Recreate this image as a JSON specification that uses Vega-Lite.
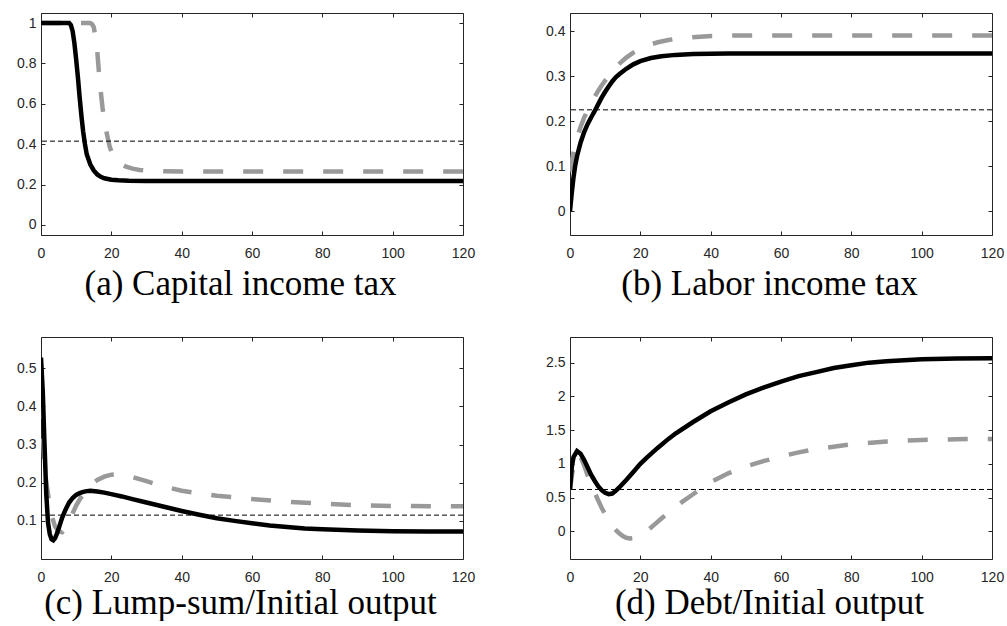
{
  "$schema": "https://vega.github.io/schema/vega-lite/v6.json",
  "padding": {"left": 16, "top": 12, "right": 0, "bottom": 0},
  "background": "white",
  "columns": 2,
  "spacing": {"row": 102, "column": 107},
  "bounds": "flush",
  "datasets": {
    "curves": [
      {"p":"a","s":"k","t":0,"v":1},{"p":"a","s":"k","t":4,"v":1},{"p":"a","s":"k","t":8,"v":1},{"p":"a","s":"k","t":8.5,"v":0.99},{"p":"a","s":"k","t":9,"v":0.96},{"p":"a","s":"k","t":9.5,"v":0.9},{"p":"a","s":"k","t":10,"v":0.82},{"p":"a","s":"k","t":10.5,"v":0.73},{"p":"a","s":"k","t":11,"v":0.63},{"p":"a","s":"k","t":11.5,"v":0.54},{"p":"a","s":"k","t":12,"v":0.46},{"p":"a","s":"k","t":12.5,"v":0.4},{"p":"a","s":"k","t":13,"v":0.35},{"p":"a","s":"k","t":14,"v":0.3},{"p":"a","s":"k","t":15,"v":0.27},{"p":"a","s":"k","t":16,"v":0.25},{"p":"a","s":"k","t":17,"v":0.238},{"p":"a","s":"k","t":18,"v":0.231},{"p":"a","s":"k","t":20,"v":0.224},{"p":"a","s":"k","t":22,"v":0.221},{"p":"a","s":"k","t":25,"v":0.219},{"p":"a","s":"k","t":30,"v":0.218},{"p":"a","s":"k","t":60,"v":0.218},{"p":"a","s":"k","t":120,"v":0.218},
      {"p":"a","s":"g","t":0,"v":1},{"p":"a","s":"g","t":14,"v":1},{"p":"a","s":"g","t":14.5,"v":0.995},{"p":"a","s":"g","t":15,"v":0.98},{"p":"a","s":"g","t":15.5,"v":0.93},{"p":"a","s":"g","t":16,"v":0.86},{"p":"a","s":"g","t":16.5,"v":0.75},{"p":"a","s":"g","t":17,"v":0.66},{"p":"a","s":"g","t":17.5,"v":0.58},{"p":"a","s":"g","t":18,"v":0.52},{"p":"a","s":"g","t":18.5,"v":0.47},{"p":"a","s":"g","t":19,"v":0.43},{"p":"a","s":"g","t":19.5,"v":0.39},{"p":"a","s":"g","t":20,"v":0.365},{"p":"a","s":"g","t":21,"v":0.33},{"p":"a","s":"g","t":22,"v":0.31},{"p":"a","s":"g","t":24,"v":0.29},{"p":"a","s":"g","t":26,"v":0.279},{"p":"a","s":"g","t":28,"v":0.272},{"p":"a","s":"g","t":32,"v":0.267},{"p":"a","s":"g","t":40,"v":0.265},{"p":"a","s":"g","t":120,"v":0.265},
      {"p":"b","s":"k","t":0,"v":0},{"p":"b","s":"k","t":0.5,"v":0.04},{"p":"b","s":"k","t":1,"v":0.075},{"p":"b","s":"k","t":1.5,"v":0.102},{"p":"b","s":"k","t":2,"v":0.122},{"p":"b","s":"k","t":3,"v":0.152},{"p":"b","s":"k","t":4,"v":0.175},{"p":"b","s":"k","t":5,"v":0.193},{"p":"b","s":"k","t":6,"v":0.208},{"p":"b","s":"k","t":7,"v":0.222},{"p":"b","s":"k","t":8,"v":0.237},{"p":"b","s":"k","t":9,"v":0.252},{"p":"b","s":"k","t":10,"v":0.265},{"p":"b","s":"k","t":11,"v":0.277},{"p":"b","s":"k","t":12,"v":0.288},{"p":"b","s":"k","t":13,"v":0.297},{"p":"b","s":"k","t":14,"v":0.304},{"p":"b","s":"k","t":16,"v":0.316},{"p":"b","s":"k","t":18,"v":0.326},{"p":"b","s":"k","t":20,"v":0.333},{"p":"b","s":"k","t":23,"v":0.34},{"p":"b","s":"k","t":26,"v":0.344},{"p":"b","s":"k","t":30,"v":0.347},{"p":"b","s":"k","t":35,"v":0.349},{"p":"b","s":"k","t":45,"v":0.35},{"p":"b","s":"k","t":120,"v":0.35},
      {"p":"b","s":"g","t":0,"v":0.088},{"p":"b","s":"g","t":0.5,"v":0.11},{"p":"b","s":"g","t":1,"v":0.13},{"p":"b","s":"g","t":1.5,"v":0.148},{"p":"b","s":"g","t":2,"v":0.163},{"p":"b","s":"g","t":3,"v":0.187},{"p":"b","s":"g","t":4,"v":0.207},{"p":"b","s":"g","t":5,"v":0.224},{"p":"b","s":"g","t":6,"v":0.24},{"p":"b","s":"g","t":7,"v":0.254},{"p":"b","s":"g","t":8,"v":0.267},{"p":"b","s":"g","t":9,"v":0.279},{"p":"b","s":"g","t":10,"v":0.29},{"p":"b","s":"g","t":12,"v":0.31},{"p":"b","s":"g","t":14,"v":0.327},{"p":"b","s":"g","t":16,"v":0.341},{"p":"b","s":"g","t":18,"v":0.352},{"p":"b","s":"g","t":20,"v":0.361},{"p":"b","s":"g","t":22,"v":0.368},{"p":"b","s":"g","t":25,"v":0.375},{"p":"b","s":"g","t":28,"v":0.38},{"p":"b","s":"g","t":32,"v":0.385},{"p":"b","s":"g","t":38,"v":0.388},{"p":"b","s":"g","t":45,"v":0.39},{"p":"b","s":"g","t":120,"v":0.39},
      {"p":"c","s":"k","t":0,"v":0.528},{"p":"c","s":"k","t":0.5,"v":0.44},{"p":"c","s":"k","t":1,"v":0.3},{"p":"c","s":"k","t":1.5,"v":0.17},{"p":"c","s":"k","t":2,"v":0.095},{"p":"c","s":"k","t":2.5,"v":0.065},{"p":"c","s":"k","t":3,"v":0.052},{"p":"c","s":"k","t":3.5,"v":0.049},{"p":"c","s":"k","t":4,"v":0.055},{"p":"c","s":"k","t":4.5,"v":0.066},{"p":"c","s":"k","t":5,"v":0.079},{"p":"c","s":"k","t":6,"v":0.108},{"p":"c","s":"k","t":7,"v":0.13},{"p":"c","s":"k","t":8,"v":0.148},{"p":"c","s":"k","t":9,"v":0.16},{"p":"c","s":"k","t":10,"v":0.168},{"p":"c","s":"k","t":11,"v":0.173},{"p":"c","s":"k","t":12,"v":0.176},{"p":"c","s":"k","t":13,"v":0.178},{"p":"c","s":"k","t":14,"v":0.179},{"p":"c","s":"k","t":16,"v":0.177},{"p":"c","s":"k","t":18,"v":0.174},{"p":"c","s":"k","t":20,"v":0.17},{"p":"c","s":"k","t":23,"v":0.164},{"p":"c","s":"k","t":26,"v":0.157},{"p":"c","s":"k","t":30,"v":0.148},{"p":"c","s":"k","t":35,"v":0.137},{"p":"c","s":"k","t":40,"v":0.126},{"p":"c","s":"k","t":45,"v":0.116},{"p":"c","s":"k","t":50,"v":0.107},{"p":"c","s":"k","t":55,"v":0.1},{"p":"c","s":"k","t":60,"v":0.094},{"p":"c","s":"k","t":65,"v":0.088},{"p":"c","s":"k","t":70,"v":0.084},{"p":"c","s":"k","t":75,"v":0.08},{"p":"c","s":"k","t":80,"v":0.078},{"p":"c","s":"k","t":90,"v":0.075},{"p":"c","s":"k","t":100,"v":0.073},{"p":"c","s":"k","t":110,"v":0.072},{"p":"c","s":"k","t":120,"v":0.072},
      {"p":"c","s":"g","t":0,"v":0.42},{"p":"c","s":"g","t":0.5,"v":0.33},{"p":"c","s":"g","t":1,"v":0.25},{"p":"c","s":"g","t":1.5,"v":0.2},{"p":"c","s":"g","t":2,"v":0.17},{"p":"c","s":"g","t":2.5,"v":0.14},{"p":"c","s":"g","t":3,"v":0.115},{"p":"c","s":"g","t":4,"v":0.085},{"p":"c","s":"g","t":5,"v":0.072},{"p":"c","s":"g","t":6,"v":0.07},{"p":"c","s":"g","t":7,"v":0.082},{"p":"c","s":"g","t":8,"v":0.1},{"p":"c","s":"g","t":9,"v":0.12},{"p":"c","s":"g","t":10,"v":0.14},{"p":"c","s":"g","t":11,"v":0.156},{"p":"c","s":"g","t":12,"v":0.17},{"p":"c","s":"g","t":13,"v":0.183},{"p":"c","s":"g","t":14,"v":0.193},{"p":"c","s":"g","t":16,"v":0.207},{"p":"c","s":"g","t":18,"v":0.216},{"p":"c","s":"g","t":20,"v":0.221},{"p":"c","s":"g","t":22,"v":0.222},{"p":"c","s":"g","t":24,"v":0.22},{"p":"c","s":"g","t":26,"v":0.215},{"p":"c","s":"g","t":30,"v":0.204},{"p":"c","s":"g","t":35,"v":0.19},{"p":"c","s":"g","t":40,"v":0.179},{"p":"c","s":"g","t":45,"v":0.172},{"p":"c","s":"g","t":50,"v":0.166},{"p":"c","s":"g","t":60,"v":0.157},{"p":"c","s":"g","t":70,"v":0.15},{"p":"c","s":"g","t":80,"v":0.145},{"p":"c","s":"g","t":90,"v":0.141},{"p":"c","s":"g","t":100,"v":0.139},{"p":"c","s":"g","t":120,"v":0.138},
      {"p":"d","s":"k","t":0,"v":0.62},{"p":"d","s":"k","t":0.5,"v":0.95},{"p":"d","s":"k","t":1,"v":1.1},{"p":"d","s":"k","t":2,"v":1.19},{"p":"d","s":"k","t":3,"v":1.15},{"p":"d","s":"k","t":4,"v":1.06},{"p":"d","s":"k","t":5,"v":0.95},{"p":"d","s":"k","t":6,"v":0.84},{"p":"d","s":"k","t":7,"v":0.75},{"p":"d","s":"k","t":8,"v":0.67},{"p":"d","s":"k","t":9,"v":0.61},{"p":"d","s":"k","t":10,"v":0.57},{"p":"d","s":"k","t":11,"v":0.55},{"p":"d","s":"k","t":12,"v":0.56},{"p":"d","s":"k","t":13,"v":0.6},{"p":"d","s":"k","t":14,"v":0.65},{"p":"d","s":"k","t":16,"v":0.76},{"p":"d","s":"k","t":18,"v":0.88},{"p":"d","s":"k","t":20,"v":1.0},{"p":"d","s":"k","t":22,"v":1.1},{"p":"d","s":"k","t":25,"v":1.24},{"p":"d","s":"k","t":28,"v":1.37},{"p":"d","s":"k","t":30,"v":1.45},{"p":"d","s":"k","t":35,"v":1.62},{"p":"d","s":"k","t":40,"v":1.78},{"p":"d","s":"k","t":45,"v":1.91},{"p":"d","s":"k","t":50,"v":2.03},{"p":"d","s":"k","t":55,"v":2.13},{"p":"d","s":"k","t":60,"v":2.22},{"p":"d","s":"k","t":65,"v":2.3},{"p":"d","s":"k","t":70,"v":2.36},{"p":"d","s":"k","t":75,"v":2.42},{"p":"d","s":"k","t":80,"v":2.46},{"p":"d","s":"k","t":85,"v":2.5},{"p":"d","s":"k","t":90,"v":2.52},{"p":"d","s":"k","t":100,"v":2.55},{"p":"d","s":"k","t":110,"v":2.56},{"p":"d","s":"k","t":120,"v":2.565},
      {"p":"d","s":"g","t":0,"v":0.62},{"p":"d","s":"g","t":1,"v":1.0},{"p":"d","s":"g","t":2,"v":1.13},{"p":"d","s":"g","t":3,"v":1.1},{"p":"d","s":"g","t":4,"v":0.98},{"p":"d","s":"g","t":5,"v":0.83},{"p":"d","s":"g","t":6,"v":0.7},{"p":"d","s":"g","t":7,"v":0.58},{"p":"d","s":"g","t":8,"v":0.46},{"p":"d","s":"g","t":9,"v":0.35},{"p":"d","s":"g","t":10,"v":0.25},{"p":"d","s":"g","t":11,"v":0.16},{"p":"d","s":"g","t":12,"v":0.08},{"p":"d","s":"g","t":13,"v":0.02},{"p":"d","s":"g","t":14,"v":-0.03},{"p":"d","s":"g","t":15,"v":-0.07},{"p":"d","s":"g","t":16,"v":-0.095},{"p":"d","s":"g","t":17,"v":-0.105},{"p":"d","s":"g","t":18,"v":-0.1},{"p":"d","s":"g","t":19,"v":-0.085},{"p":"d","s":"g","t":20,"v":-0.06},{"p":"d","s":"g","t":22,"v":0.01},{"p":"d","s":"g","t":24,"v":0.1},{"p":"d","s":"g","t":26,"v":0.19},{"p":"d","s":"g","t":28,"v":0.28},{"p":"d","s":"g","t":30,"v":0.36},{"p":"d","s":"g","t":32,"v":0.44},{"p":"d","s":"g","t":35,"v":0.55},{"p":"d","s":"g","t":38,"v":0.66},{"p":"d","s":"g","t":40,"v":0.73},{"p":"d","s":"g","t":45,"v":0.86},{"p":"d","s":"g","t":50,"v":0.96},{"p":"d","s":"g","t":55,"v":1.04},{"p":"d","s":"g","t":60,"v":1.11},{"p":"d","s":"g","t":65,"v":1.17},{"p":"d","s":"g","t":70,"v":1.22},{"p":"d","s":"g","t":80,"v":1.29},{"p":"d","s":"g","t":90,"v":1.33},{"p":"d","s":"g","t":100,"v":1.355},{"p":"d","s":"g","t":110,"v":1.365},{"p":"d","s":"g","t":120,"v":1.37}
    ],
    "refs": [
      {"p":"a","ref":0.415},{"p":"b","ref":0.225},{"p":"c","ref":0.115},{"p":"d","ref":0.62}
    ]
  },
  "concat": [
    {
      "width": 422, "height": 222,
      "resolve": {"axis": {"x": "independent", "y": "independent"}},
      "layer": [
        {
          "data": {"name": "curves"},
          "transform": [{"filter": "datum.p === 'a' && datum.s === 'g'"}],
          "mark": {"type": "line", "color": "#999999", "strokeWidth": 4.5, "strokeDash": [20, 20], "clip": true},
          "encoding": {
            "x": {"field": "t", "type": "quantitative", "scale": {"domain": [0, 120], "nice": false, "zero": false}, "axis": {"orient": "top", "labels": false, "title": null, "values": [0,20,40,60,80,100,120]}},
            "y": {"field": "v", "type": "quantitative", "scale": {"domain": [-0.05, 1.05], "nice": false, "zero": false}, "axis": {"orient": "right", "labels": false, "title": null, "values": [0,0.2,0.4,0.6,0.8,1]}}
          }
        },
        {
          "data": {"name": "curves"},
          "transform": [{"filter": "datum.p === 'a' && datum.s === 'k'"}],
          "mark": {"type": "line", "color": "#000000", "strokeWidth": 4.5, "clip": true},
          "encoding": {
            "x": {"field": "t", "type": "quantitative", "scale": {"domain": [0, 120], "nice": false, "zero": false}, "axis": {"orient": "bottom", "title": "(a) Capital income tax", "titleY": 59, "values": [0,20,40,60,80,100,120]}},
            "y": {"field": "v", "type": "quantitative", "scale": {"domain": [-0.05, 1.05], "nice": false, "zero": false}, "axis": {"orient": "left", "title": null, "values": [0,0.2,0.4,0.6,0.8,1]}}
          }
        },
        {
          "data": {"name": "refs"},
          "transform": [{"filter": "datum.p === 'a'"}],
          "mark": {"type": "rule", "color": "#000000", "strokeWidth": 1, "strokeDash": [5, 3]},
          "encoding": {
            "y": {"field": "ref", "type": "quantitative", "scale": {"domain": [-0.05, 1.05], "nice": false, "zero": false}, "axis": null}
          }
        }
      ]
    },
    {
      "width": 422, "height": 222,
      "resolve": {"axis": {"x": "independent", "y": "independent"}},
      "layer": [
        {
          "data": {"name": "curves"},
          "transform": [{"filter": "datum.p === 'b' && datum.s === 'g'"}],
          "mark": {"type": "line", "color": "#999999", "strokeWidth": 4.5, "strokeDash": [20, 20], "clip": true},
          "encoding": {
            "x": {"field": "t", "type": "quantitative", "scale": {"domain": [0, 120], "nice": false, "zero": false}, "axis": {"orient": "top", "labels": false, "title": null, "values": [0,20,40,60,80,100,120]}},
            "y": {"field": "v", "type": "quantitative", "scale": {"domain": [-0.053, 0.44], "nice": false, "zero": false}, "axis": {"orient": "right", "labels": false, "title": null, "values": [0,0.1,0.2,0.3,0.4]}}
          }
        },
        {
          "data": {"name": "curves"},
          "transform": [{"filter": "datum.p === 'b' && datum.s === 'k'"}],
          "mark": {"type": "line", "color": "#000000", "strokeWidth": 4.5, "clip": true},
          "encoding": {
            "x": {"field": "t", "type": "quantitative", "scale": {"domain": [0, 120], "nice": false, "zero": false}, "axis": {"orient": "bottom", "title": "(b) Labor income tax", "titleY": 59, "values": [0,20,40,60,80,100,120]}},
            "y": {"field": "v", "type": "quantitative", "scale": {"domain": [-0.053, 0.44], "nice": false, "zero": false}, "axis": {"orient": "left", "title": null, "values": [0,0.1,0.2,0.3,0.4]}}
          }
        },
        {
          "data": {"name": "refs"},
          "transform": [{"filter": "datum.p === 'b'"}],
          "mark": {"type": "rule", "color": "#000000", "strokeWidth": 1, "strokeDash": [5, 3]},
          "encoding": {
            "y": {"field": "ref", "type": "quantitative", "scale": {"domain": [-0.053, 0.44], "nice": false, "zero": false}, "axis": null}
          }
        }
      ]
    },
    {
      "width": 422, "height": 222,
      "resolve": {"axis": {"x": "independent", "y": "independent"}},
      "layer": [
        {
          "data": {"name": "curves"},
          "transform": [{"filter": "datum.p === 'c' && datum.s === 'g'"}],
          "mark": {"type": "line", "color": "#999999", "strokeWidth": 4.5, "strokeDash": [20, 20], "clip": true},
          "encoding": {
            "x": {"field": "t", "type": "quantitative", "scale": {"domain": [0, 120], "nice": false, "zero": false}, "axis": {"orient": "top", "labels": false, "title": null, "values": [0,20,40,60,80,100,120]}},
            "y": {"field": "v", "type": "quantitative", "scale": {"domain": [0, 0.582], "nice": false, "zero": false}, "axis": {"orient": "right", "labels": false, "title": null, "values": [0.1,0.2,0.3,0.4,0.5]}}
          }
        },
        {
          "data": {"name": "curves"},
          "transform": [{"filter": "datum.p === 'c' && datum.s === 'k'"}],
          "mark": {"type": "line", "color": "#000000", "strokeWidth": 4.5, "clip": true},
          "encoding": {
            "x": {"field": "t", "type": "quantitative", "scale": {"domain": [0, 120], "nice": false, "zero": false}, "axis": {"orient": "bottom", "title": "(c) Lump-sum/Initial output", "titleY": 54, "values": [0,20,40,60,80,100,120]}},
            "y": {"field": "v", "type": "quantitative", "scale": {"domain": [0, 0.582], "nice": false, "zero": false}, "axis": {"orient": "left", "title": null, "values": [0.1,0.2,0.3,0.4,0.5]}}
          }
        },
        {
          "data": {"name": "refs"},
          "transform": [{"filter": "datum.p === 'c'"}],
          "mark": {"type": "rule", "color": "#000000", "strokeWidth": 1, "strokeDash": [5, 3]},
          "encoding": {
            "y": {"field": "ref", "type": "quantitative", "scale": {"domain": [0, 0.582], "nice": false, "zero": false}, "axis": null}
          }
        }
      ]
    },
    {
      "width": 422, "height": 222,
      "resolve": {"axis": {"x": "independent", "y": "independent"}},
      "layer": [
        {
          "data": {"name": "curves"},
          "transform": [{"filter": "datum.p === 'd' && datum.s === 'g'"}],
          "mark": {"type": "line", "color": "#999999", "strokeWidth": 4.5, "strokeDash": [20, 20], "clip": true},
          "encoding": {
            "x": {"field": "t", "type": "quantitative", "scale": {"domain": [0, 120], "nice": false, "zero": false}, "axis": {"orient": "top", "labels": false, "title": null, "values": [0,20,40,60,80,100,120]}},
            "y": {"field": "v", "type": "quantitative", "scale": {"domain": [-0.41, 2.88], "nice": false, "zero": false}, "axis": {"orient": "right", "labels": false, "title": null, "values": [0,0.5,1,1.5,2,2.5]}}
          }
        },
        {
          "data": {"name": "curves"},
          "transform": [{"filter": "datum.p === 'd' && datum.s === 'k'"}],
          "mark": {"type": "line", "color": "#000000", "strokeWidth": 4.5, "clip": true},
          "encoding": {
            "x": {"field": "t", "type": "quantitative", "scale": {"domain": [0, 120], "nice": false, "zero": false}, "axis": {"orient": "bottom", "title": "(d) Debt/Initial output", "titleY": 54, "values": [0,20,40,60,80,100,120]}},
            "y": {"field": "v", "type": "quantitative", "scale": {"domain": [-0.41, 2.88], "nice": false, "zero": false}, "axis": {"orient": "left", "title": null, "values": [0,0.5,1,1.5,2,2.5]}}
          }
        },
        {
          "data": {"name": "refs"},
          "transform": [{"filter": "datum.p === 'd'"}],
          "mark": {"type": "rule", "color": "#000000", "strokeWidth": 1, "strokeDash": [5, 3]},
          "encoding": {
            "y": {"field": "ref", "type": "quantitative", "scale": {"domain": [-0.41, 2.88], "nice": false, "zero": false}, "axis": null}
          }
        }
      ]
    }
  ],
  "config": {
    "view": {"stroke": "#262626", "strokeWidth": 1},
    "axis": {
      "domain": false, "grid": false, "format": "~r",
      "labelFont": "Liberation Sans", "labelFontSize": 14, "labelColor": "#262626",
      "labelFlush": false, "labelOverlap": false,
      "tickColor": "#262626", "tickSize": -4, "tickWidth": 1,
      "titleFont": "Liberation Serif", "titleFontSize": 35, "titleFontWeight": "normal", "titleColor": "#000000"
    },
    "axisX": {"labelPadding": 15, "titleX": 199, "titleAlign": "center", "titleBaseline": "alphabetic", "titleAnchor": null},
    "axisY": {"labelPadding": 9}
  }
}
